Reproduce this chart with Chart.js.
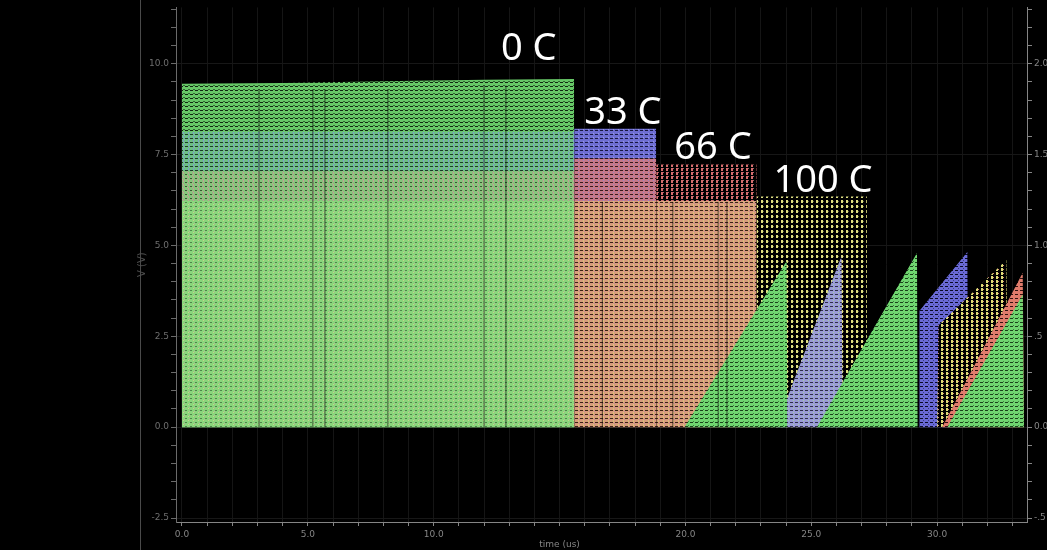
<!DOCTYPE html>
<html>
<head>
<meta charset="utf-8">
<script src="https://cdn.jsdelivr.net/npm/chart.js@4/dist/chart.umd.min.js"></script>
<style>
  html, body { margin: 0; padding: 0; background: #000; overflow: hidden; }
  #c { display: block; }
</style>
</head>
<body>
<canvas id="c" width="1047" height="550"></canvas>
<script>
/* Transient sweep, 0 / 33 / 66 / 100 C — envelope view of the waveform viewer */

// axes (time in us, left V, right V)
const xTicks   = [0,1,2,3,4,5,6,7,8,9,10,11,12,13,14,15,16,17,18,19,20,21,22,23,24,25,26,27,28,29,30,31,32,33];
const xLabeled = [0, 5, 10, 20, 25, 30];
const yTicks   = [-2.5,-2,-1.5,-1,-0.5,0,0.5,1,1.5,2,2.5,3,3.5,4,4.5,5,5.5,6,6.5,7,7.5,8,8.5,9,9.5,10,10.5,11,11.5];
const y2Ticks  = [-0.5,-0.4,-0.3,-0.2,-0.1,0,0.1,0.2,0.3,0.4,0.5,0.6,0.7,0.8,0.9,1,1.1,1.2,1.3,1.4,1.5,1.6,1.7,1.8,1.9,2,2.1,2.2,2.3];

// temperature labels
const tempLabels = ['0 C', '33 C', '66 C', '100 C'];
const tempLabelX = [12.67, 15.98, 19.56, 23.5];
const tempLabelY = [10.1, 8.35, 7.39, 6.46];

// 0 C block: envelope top and inner bands
const a0X    = [0, 4, 8, 12, 15.58];
const a0Top  = [9.45, 9.47, 9.52, 9.56, 9.58];
const a0Blue = [8.13, 7.04];   // top, bottom
const a0Pink = [7.04, 6.22];
const a0Low  = [6.22, 0];

// 33 C block
const b33X    = [15.58, 18.84];
const b33Blue = [8.21, 7.39];
const b33Pink = [7.39, 6.22];
const b33Low  = [6.22, 0];

// 66 C block
const c66X   = [18.84, 22.83];
const c66Red = [7.23, 6.22];
const c66Low = [6.22, 0];

// 100 C block
const d100X   = [22.83, 27.21];
const d100Top = [6.35, 0];

// charging ramps (saw teeth)
const rLavX = [23.6, 26.2, 26.25];   const rLavY = [0, 4.7, 0];
const rG1X  = [19.96, 24.02, 24.05]; const rG1Y  = [0, 4.57, 0];
const rG2X  = [25.22, 29.2, 29.23];  const rG2Y  = [0, 4.79, 0];
const rBluX = [29.28, 29.3, 31.2, 31.23]; const rBluY = [0, 3.2, 4.82, 0];
const rYelX = [30.0, 30.05, 32.75, 32.8]; const rYelY = [0, 2.8, 4.6, 0];
const rRedX = [30.2, 33.4, 33.45];   const rRedY = [0, 4.25, 0];
const rG3X  = [30.4, 33.4, 33.45];   const rG3Y  = [0, 3.65, 0];

// dark gaps between pulse trains
const gapX   = [3.06, 5.2, 5.68, 8.18, 12.0, 12.87, 16.7, 19.5, 21.3, 21.65];
const gapTop = [9.3, 9.3, 9.3, 9.3, 9.4, 9.4, 6.2, 6.2, 6.2, 6.2];

function tile(base, w, h, marks) {
  const c = document.createElement('canvas');
  c.width = w; c.height = h;
  const g = c.getContext('2d');
  g.fillStyle = base; g.fillRect(0, 0, w, h);
  marks.forEach(m => { g.fillStyle = m[4]; g.fillRect(m[0], m[1], m[2], m[3]); });
  return g.createPattern(c, 'repeat');
}

const ink = 'rgba(8,20,8,0.9)';
const pat = {
  greenDark: tile('#67c867', 5, 4, [[0, 2, 3, 1, ink], [3, 1, 2, 1, 'rgba(8,20,8,0.55)']]),
  teal:      tile('#6cc084', 5, 4, [[0, 2, 3, 1, 'rgba(10,25,20,0.8)'], [3, 0, 1, 2, '#7d9ccf'], [4, 3, 1, 1, '#86a8c0']]),
  pinkGreen: tile('#86c67c', 5, 4, [[0, 2, 2, 1, 'rgba(30,40,20,0.7)'], [3, 0, 1, 2, '#c89a98'], [2, 3, 1, 1, '#c8a090']]),
  lightGreen:tile('#8ad67c', 5, 4, [[0, 2, 2, 1, 'rgba(40,80,40,0.6)'], [3, 0, 1, 1, '#c8d488'], [4, 3, 1, 1, '#b8b49a']]),
  blue:      tile('#6e6ed2', 5, 4, [[0, 2, 3, 1, 'rgba(10,10,40,0.85)'], [3, 1, 1, 1, '#9a9ae0']]),
  pink:      tile('#c67888', 5, 4, [[0, 2, 3, 1, 'rgba(30,10,10,0.85)'], [3, 0, 1, 1, '#9a86c8']]),
  orange:    tile('#d89c7c', 5, 4, [[0, 2, 3, 1, 'rgba(30,15,5,0.85)'], [3, 0, 1, 2, '#d8c278'], [4, 3, 1, 1, '#c48aa0']]),
  red:       tile('#000000', 5, 4, [[1, 0, 2, 3, '#d66e6e'], [3, 0, 1, 1, '#a85a6a']]),
  yellow:    tile('#000000', 5, 5, [[1, 0, 2, 3, '#dede82'], [3, 1, 1, 1, '#6a6a3a']]),
  green:     tile('#70d670', 5, 4, [[0, 2, 3, 1, 'rgba(10,40,10,0.85)'], [3, 1, 1, 1, 'rgba(10,40,10,0.5)']]),
  lavender:  tile('#9a9cd6', 5, 4, [[0, 2, 3, 1, 'rgba(20,20,40,0.8)'], [3, 0, 1, 1, '#a6d0a0']]),
  blueRamp:  tile('#6a6ad6', 5, 4, [[0, 2, 3, 1, 'rgba(0,0,20,0.9)'], [3, 0, 1, 1, '#3a3a80']]),
  yelRamp:   tile('#000000', 5, 4, [[1, 0, 2, 3, '#dcdc78'], [3, 1, 1, 1, '#e08a74']]),
  redRamp:   tile('#e07c6c', 5, 4, [[0, 2, 3, 1, 'rgba(20,0,0,0.85)']]),
};

const pts  = (xs, ys) => xs.map((x, i) => ({ x, y: ys[i] }));
const flat = (xs, v) => xs.map(x => ({ x, y: v }));

function area(data, fill, bg) {
  return { type: 'line', data, fill, backgroundColor: bg, borderWidth: 0, pointRadius: 0, tension: 0 };
}

// bottom first
const layers = [
  area(pts(a0X, a0Top), 'origin', pat.greenDark),
  area(flat(a0X, a0Blue[0]), { value: a0Blue[1] }, pat.teal),
  area(flat(a0X, a0Pink[0]), { value: a0Pink[1] }, pat.pinkGreen),
  area(flat(a0X, a0Low[0]),  { value: a0Low[1] },  pat.lightGreen),
  area(flat(b33X, b33Blue[0]), { value: b33Blue[1] }, pat.blue),
  area(flat(b33X, b33Pink[0]), { value: b33Pink[1] }, pat.pink),
  area(flat(b33X, b33Low[0]),  { value: b33Low[1] },  pat.orange),
  area(flat(c66X, c66Red[0]), { value: c66Red[1] }, pat.red),
  area(flat(c66X, c66Low[0]), { value: c66Low[1] }, pat.orange),
  area(flat(d100X, d100Top[0]), { value: d100Top[1] }, pat.yellow),
  area(pts(rLavX, rLavY), 'origin', pat.lavender),
  area(pts(rG1X, rG1Y),   'origin', pat.green),
  area(pts(rG2X, rG2Y),   'origin', pat.green),
  area(pts(rBluX, rBluY), 'origin', pat.blueRamp),
  area(pts(rYelX, rYelY), 'origin', pat.yelRamp),
  area(pts(rRedX, rRedY), 'origin', pat.redRamp),
  area(pts(rG3X, rG3Y),   'origin', pat.green),
];

const gapData = [];
gapX.forEach((x, i) => { gapData.push({ x, y: 0 }, { x, y: gapTop[i] }, { x, y: null }); });
layers.push({ type: 'line', data: gapData, fill: false, borderColor: 'rgba(0,0,0,0.6)', borderWidth: 1, pointRadius: 0, spanGaps: false });

layers.forEach((d, i) => { d.order = layers.length - i; });

const tickGrey = '#858585';
const tickFont = { family: 'DejaVu Sans', size: 9 };

const backdrop = {
  id: 'backdrop',
  beforeDraw(chart) {
    const { ctx, width, height } = chart;
    ctx.save();
    ctx.fillStyle = '#000';
    ctx.fillRect(0, 0, width, height);
    ctx.strokeStyle = '#4a4a4a';
    ctx.lineWidth = 1;
    ctx.beginPath(); ctx.moveTo(140.5, 0); ctx.lineTo(140.5, height); ctx.stroke();
    ctx.restore();
  },
  afterDatasetsDraw(chart) {
    const { ctx, scales: { x, y } } = chart;
    ctx.save();
    ctx.fillStyle = '#ffffff';
    ctx.font = '38px "Noto Sans"';
    ctx.textBaseline = 'alphabetic';
    tempLabels.forEach((t, i) => ctx.fillText(t, x.getPixelForValue(tempLabelX[i]), y.getPixelForValue(tempLabelY[i])));
    ctx.fillStyle = tickGrey;
    ctx.font = '9px "DejaVu Sans"';
    ctx.textAlign = 'center';
    ctx.fillText('time (us)', x.getPixelForValue(15), 547);
    ctx.restore();
  }
};

new Chart(document.getElementById('c'), {
  data: { datasets: layers },
  plugins: [backdrop],
  options: {
    responsive: false,
    animation: false,
    events: [],
    layout: { padding: { left: 136, right: 0, top: 5, bottom: 0 } },
    plugins: { legend: { display: false }, tooltip: { enabled: false } },
    scales: {
      x: {
        type: 'linear', min: -0.238, max: 33.57,
        afterBuildTicks: s => { s.ticks = xTicks.map(v => ({ value: v })); },
        afterFit: s => { s.height = 28; },
        grid: { color: '#151515', tickColor: tickGrey, tickLength: 4 },
        border: { color: tickGrey },
        ticks: {
          color: tickGrey, font: tickFont, autoSkip: false, maxRotation: 0, padding: 3,
          callback: v => xLabeled.includes(v) ? v.toFixed(1) : ''
        }
      },
      y: {
        type: 'linear', position: 'left', min: -2.61, max: 11.55,
        afterBuildTicks: s => { s.ticks = yTicks.map(v => ({ value: v })); },
        afterFit: s => { s.width = 40; },
        grid: {
          color: c => (Math.abs(c.tick.value / 2.5 - Math.round(c.tick.value / 2.5)) < 1e-6 ? '#171717' : 'rgba(0,0,0,0)'),
          tickColor: '#6a6a6a', tickLength: 5
        },
        border: { color: '#6a6a6a' },
        title: { display: true, text: 'V (V)', color: '#4e4e4e', font: { family: 'DejaVu Sans', size: 10 }, padding: 0 },
        ticks: {
          color: '#6e6e6e', font: tickFont, autoSkip: false, padding: 2,
          callback: v => (Math.abs(v / 2.5 - Math.round(v / 2.5)) < 1e-6 && v <= 10 ? v.toFixed(1) : '')
        }
      },
      y2: {
        type: 'linear', position: 'right', min: -0.522, max: 2.31,
        afterBuildTicks: s => { s.ticks = y2Ticks.map(v => ({ value: v })); },
        afterFit: s => { s.width = 20; },
        grid: { drawOnChartArea: false, tickColor: tickGrey, tickLength: 5 },
        border: { color: tickGrey },
        ticks: {
          color: tickGrey, font: tickFont, autoSkip: false, padding: 2,
          callback: v => {
            if (Math.abs(v * 2 - Math.round(v * 2)) > 1e-6) return '';
            if (Math.abs(v) < 1e-6) return '0.0';
            if (Math.abs(v) < 1) return (v < 0 ? '-' : '') + '.5';
            return v.toFixed(1);
          }
        }
      }
    }
  }
});
</script>
</body>
</html>
